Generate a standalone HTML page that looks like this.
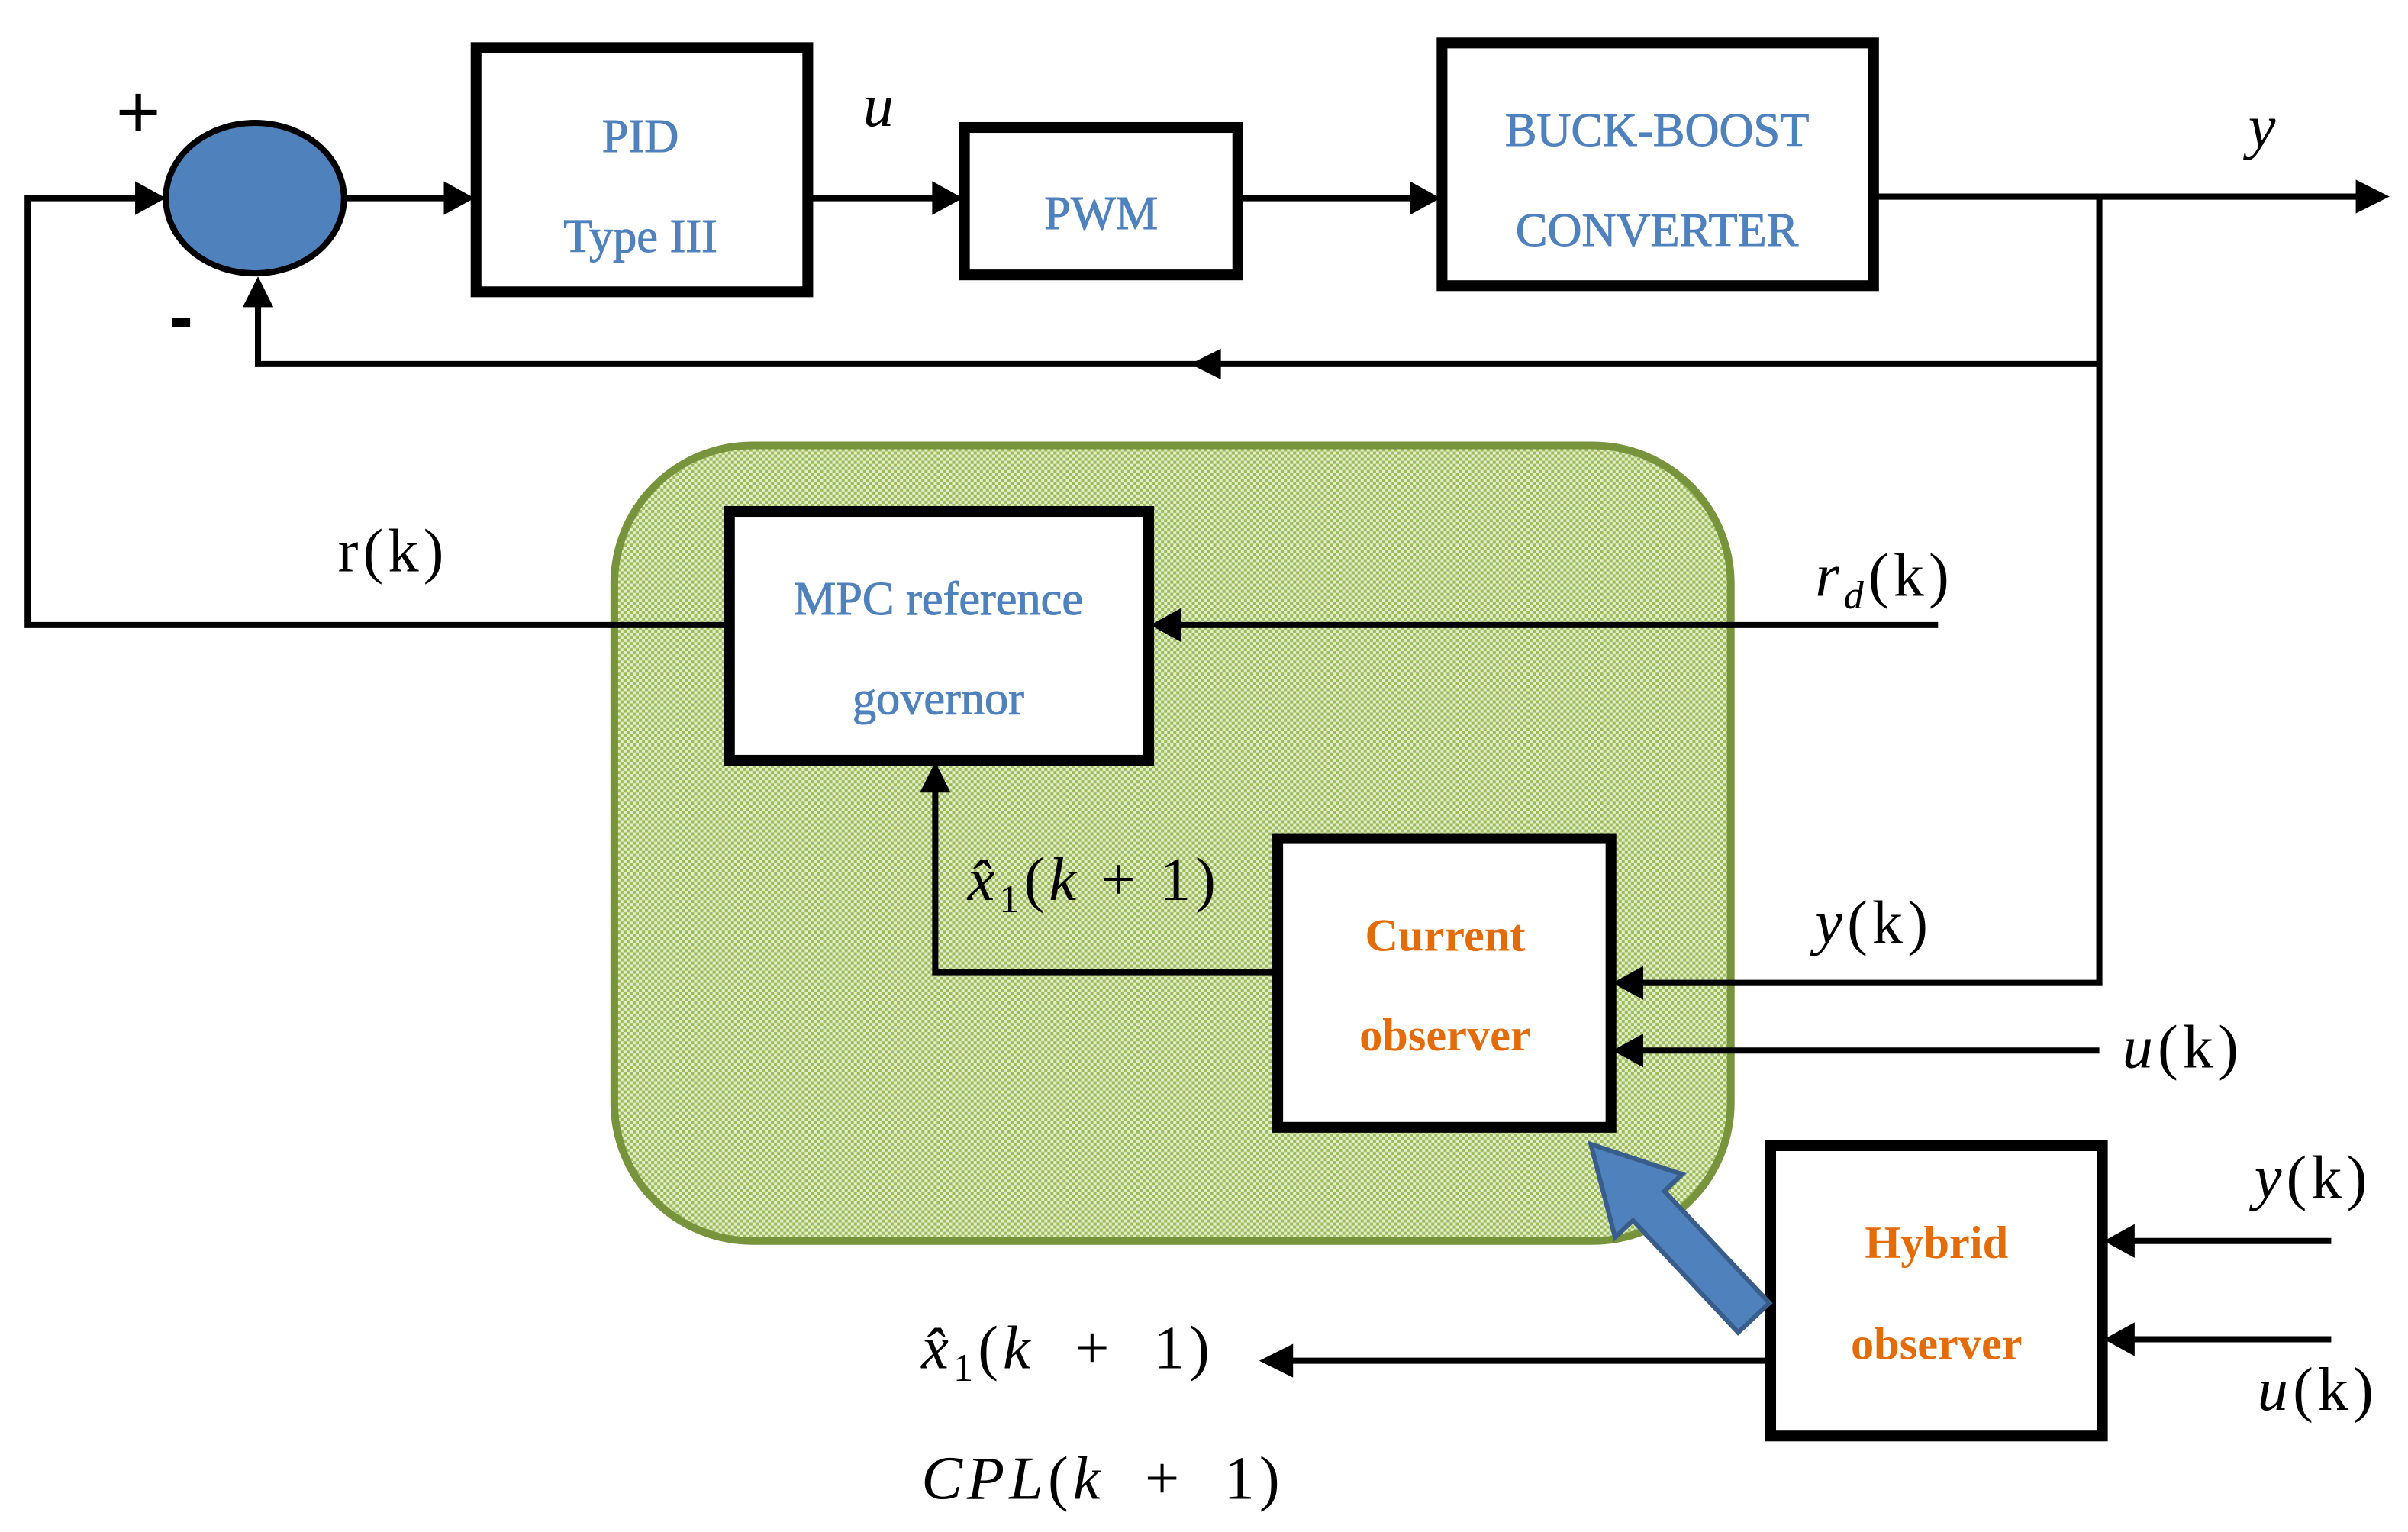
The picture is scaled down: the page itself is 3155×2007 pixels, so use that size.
<!DOCTYPE html>
<html><head><meta charset="utf-8"><style>
html,body{margin:0;padding:0;background:#fff;}
svg{display:block;}
.bt{font-family:"Liberation Serif",serif;font-size:31px;fill:#4f81bd;stroke:#4f81bd;stroke-width:0.5;text-anchor:middle;}
.ot{font-family:"Liberation Serif",serif;font-size:30px;font-weight:bold;fill:#e36c09;text-anchor:middle;}
.m{font-family:"Liberation Serif",serif;font-size:40px;fill:#000;letter-spacing:3px;}
.i{font-style:italic;}
</style></head><body>
<svg width="3155" height="2007" viewBox="0 0 1568 997.5" preserveAspectRatio="none" xmlns="http://www.w3.org/2000/svg">
<defs>
<pattern id="chk" width="4" height="4" patternUnits="userSpaceOnUse">
<rect width="4" height="4" fill="#e4edcc"/>
<rect width="2" height="2" fill="#9bbb59"/>
<rect x="2" y="2" width="2" height="2" fill="#9bbb59"/>
</pattern>
</defs>
<rect x="400" y="290" width="727" height="518" rx="90" fill="url(#chk)" stroke="#77933c" stroke-width="5"/>
<g stroke="#000" stroke-width="4" fill="none" stroke-linejoin="miter">
<polyline points="474,407 18,407 18,129 96,129"/>
<line x1="224" y1="129" x2="297" y2="129"/>
<line x1="527" y1="129" x2="614" y2="129"/>
<line x1="806" y1="129" x2="925" y2="129"/>
<line x1="1220" y1="128" x2="1535" y2="128"/>
<polyline points="1367,128 1367,640 1064,640"/>
<polyline points="1367,237 168,237 168,194"/>
<line x1="1262" y1="407" x2="762" y2="407"/>
<polyline points="831,633 609,633 609,510"/>
<line x1="1367" y1="684" x2="1064" y2="684"/>
<line x1="1518" y1="808" x2="1384" y2="808"/>
<line x1="1518" y1="872" x2="1384" y2="872"/>
<line x1="1152" y1="886" x2="838" y2="886"/>
</g>
<g fill="#000">
<path d="M108,129 l-20,-11 v22z"/>
<path d="M309,129 l-20,-11 v22z"/>
<path d="M627,129 l-20,-11 v22z"/>
<path d="M938,129 l-20,-11 v22z"/>
<path d="M1556,128 l-22,-11 v22z"/>
<path d="M775,237 l20,-10 v20z"/>
<path d="M168,180 l-10,20 h20z"/>
<path d="M749,407 l20,-11 v22z"/>
<path d="M609,496 l-10,20 h20z"/>
<path d="M1050,640 l20,-11 v22z"/>
<path d="M1050,684 l20,-11 v22z"/>
<path d="M1370,808 l20,-11 v22z"/>
<path d="M1370,872 l20,-11 v22z"/>
<path d="M820,886 l22,-11 v22z"/>
</g>
<ellipse cx="166" cy="129" rx="58" ry="49" fill="#4f81bd" stroke="#000" stroke-width="4"/>
<text x="90" y="90" font-family="Liberation Sans,sans-serif" font-size="50" text-anchor="middle">+</text>
<text x="118" y="222" font-family="Liberation Sans,sans-serif" font-size="46" font-weight="bold" text-anchor="middle">-</text>
<g fill="#fff" stroke="#000" stroke-width="7">
<rect x="310" y="31" width="216" height="159"/>
<rect x="628" y="83" width="178" height="96"/>
<rect x="939" y="28" width="281" height="158"/>
<rect x="475" y="333" width="273" height="162"/>
<rect x="832" y="546" width="217" height="188"/>
<rect x="1153" y="746" width="216" height="189"/>
</g>
<text class="bt" x="417" y="99">PID</text>
<text class="bt" x="417" y="164">Type III</text>
<text class="bt" x="717" y="149">PWM</text>
<text class="bt" x="1079" y="95">BUCK-BOOST</text>
<text class="bt" x="1079" y="160">CONVERTER</text>
<text class="bt" x="611" y="400">MPC reference</text>
<text class="bt" x="611" y="465">governor</text>
<text class="ot" x="941" y="619">Current</text>
<text class="ot" x="941" y="684">observer</text>
<text class="ot" x="1261" y="819">Hybrid</text>
<text class="ot" x="1261" y="885">observer</text>
<g transform="translate(1142,858) rotate(-133.2)">
<path d="M0,-14 L100,-14 L100,-30 L155,0 L100,30 L100,14 L0,14 z" fill="#4f81bd" stroke="#385d8a" stroke-width="3"/>
</g>
<text class="m i" x="562" y="82">u</text>
<text class="m i" x="1464" y="96">y</text>
<text class="m" x="220" y="372">r(k)</text>
<text class="m" x="1182" y="388"><tspan class="i">r</tspan><tspan class="i" font-size="26" dy="8">d</tspan><tspan dy="-8">(k)</tspan></text>
<text class="m" x="630" y="586"><tspan class="i">x̂</tspan><tspan font-size="26" dy="8">1</tspan><tspan dy="-8">(</tspan><tspan class="i">k</tspan>  +  1)</text>
<text class="m" x="1182" y="614" xml:space="preserve"><tspan class="i">y</tspan>(k)</text>
<text class="m" x="1382" y="695"><tspan class="i">u</tspan>(k)</text>
<text class="m" x="1468" y="780"><tspan class="i">y</tspan>(k)</text>
<text class="m" x="1470" y="918"><tspan class="i">u</tspan>(k)</text>
<text class="m" x="600" y="891" xml:space="preserve"><tspan class="i">x̂</tspan><tspan font-size="26" dy="8">1</tspan><tspan dy="-8">(</tspan><tspan class="i">k</tspan>  +  1)</text>
<text class="m" x="600" y="976" xml:space="preserve"><tspan class="i">CPL</tspan>(<tspan class="i">k</tspan>  +  1)</text>
</svg>
</body></html>
